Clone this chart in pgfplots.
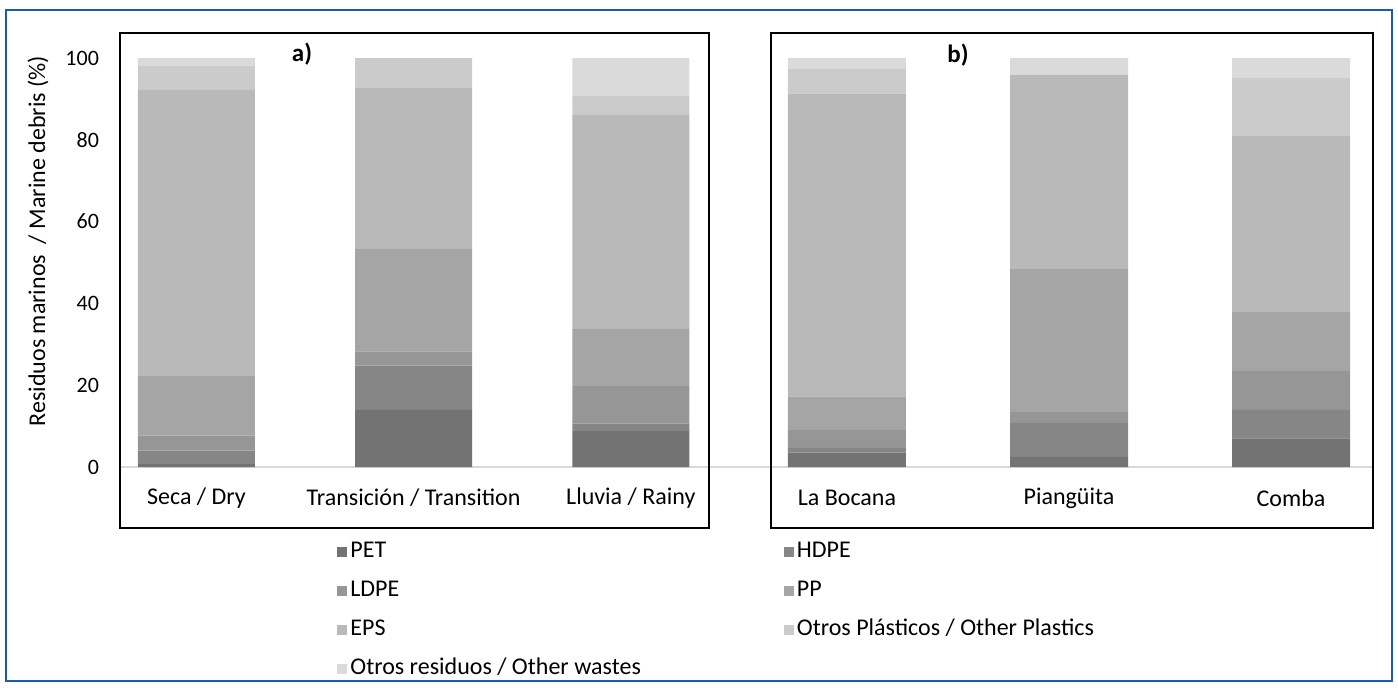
\documentclass[border=0pt]{standalone}
\usepackage{fontspec}
\setmainfont{Carlito}
\usepackage{pgfplots}
\usepackage{pgfplotstable}
\pgfplotsset{compat=1.18}
\definecolor{cPET}{HTML}{737373}
\definecolor{cHDPE}{HTML}{868686}
\definecolor{cLDPE}{HTML}{969696}
\definecolor{cPP}{HTML}{A5A5A5}
\definecolor{cEPS}{HTML}{B9B9B9}
\definecolor{cOP}{HTML}{CBCBCB}
\definecolor{cOW}{HTML}{DADADA}
\definecolor{frameblue}{RGB}{30,90,170}

\pgfplotstableread{
x PET HDPE LDPE PP EPS OP OW
0 0.7 3.3 3.7 14.6 69.9 5.8 2.0
1 14.0 10.8 3.5 25.0 39.4 7.3 0
2 8.8 1.8 9.2 13.9 52.4 4.6 9.3
}\dataA

\pgfplotstableread{
x PET HDPE LDPE PP EPS OP OW
0 3.5 1.2 4.3 8.3 74.0 6.0 2.7
1 2.5 8.3 2.7 34.9 47.4 0 4.2
2 7.0 7.0 9.5 14.4 43.0 14.2 4.9
}\dataB

\pgfplotsset{
  panel/.style={
    anchor=south west, scale only axis,
    ymin=-14.91, ymax=106.11,
    ybar stacked,
    axis line style={black, line width=0.9pt},
    xtick={0,1,2},
    xticklabel style={anchor=center, yshift=15pt, font=\fontsize{12}{14}\selectfont},
    yticklabel style={font=\fontsize{11}{13}\selectfont},
    major tick length=0pt,
    /pgf/number format/assume math mode=true,
    clip=false,
  },
  sq/.style={fill=#1, draw=none},
}

\begin{document}
\begin{tikzpicture}
\useasboundingbox (0,0) rectangle (699pt,-343.5pt);
\draw[frameblue, line width=1.3pt] (3pt,-5pt) rectangle (696pt,-340.5pt);
\draw[gray!30, line width=0.8pt] (60pt,-233.5pt) -- (686.5pt,-233.5pt);

\begin{axis}[panel,
  at={(60pt,-264pt)}, width=294.5pt, height=247.5pt,
  xmin=-0.352, xmax=2.36, bar width=58.5pt,
  xticklabels={Seca / Dry, Transición / Transition, Lluvia / Rainy},
  ytick={0,20,...,100}, yticklabel style={xshift=-7pt},
  legend columns=2,
  legend cell align=left,
  legend image code/.code={\fill[#1] (0pt,-2.5pt) rectangle (5pt,2.5pt);},
  legend style={at={(0.3684,-0.0202)}, anchor=north west, draw=none, fill=none,
    inner sep=0pt, row sep=6pt,
    font=\fontsize{12}{14}\selectfont,
    nodes={inner sep=1.5pt, text height=8pt, text depth=2.5pt},
    /tikz/every even column/.append style={column sep=70pt}},
]
\addplot[sq=cPET] table[x=x,y=PET]{\dataA};
\addplot[sq=cHDPE] table[x=x,y=HDPE]{\dataA};
\addplot[sq=cLDPE] table[x=x,y=LDPE]{\dataA};
\addplot[sq=cPP] table[x=x,y=PP]{\dataA};
\addplot[sq=cEPS] table[x=x,y=EPS]{\dataA};
\addplot[sq=cOP] table[x=x,y=OP]{\dataA};
\addplot[sq=cOW] table[x=x,y=OW]{\dataA};
\legend{PET, HDPE, LDPE, PP, EPS, Otros Plásticos / Other Plastics, Otros residuos / Other wastes}
\end{axis}

\begin{axis}[panel,
  at={(385.5pt,-264pt)}, width=301pt, height=247.5pt,
  xmin=-0.342, xmax=2.369, bar width=59pt,
  xticklabels={La Bocana, Piangüita, Comba},
  ytick=\empty,
]
\addplot[sq=cPET] table[x=x,y=PET]{\dataB};
\addplot[sq=cHDPE] table[x=x,y=HDPE]{\dataB};
\addplot[sq=cLDPE] table[x=x,y=LDPE]{\dataB};
\addplot[sq=cPP] table[x=x,y=PP]{\dataB};
\addplot[sq=cEPS] table[x=x,y=EPS]{\dataB};
\addplot[sq=cOP] table[x=x,y=OP]{\dataB};
\addplot[sq=cOW] table[x=x,y=OW]{\dataB};
\end{axis}

\node[rotate=90, font=\fontsize{12}{14}\selectfont] at (19pt,-120.5pt) {Residuos marinos~ / Marine debris (\%)};
\node[font=\bfseries\fontsize{12.5}{14}\selectfont] at (151pt,-27pt) {a)};
\node[font=\bfseries\fontsize{12.5}{14}\selectfont] at (479pt,-27.5pt) {b)};
\end{tikzpicture}
\end{document}
